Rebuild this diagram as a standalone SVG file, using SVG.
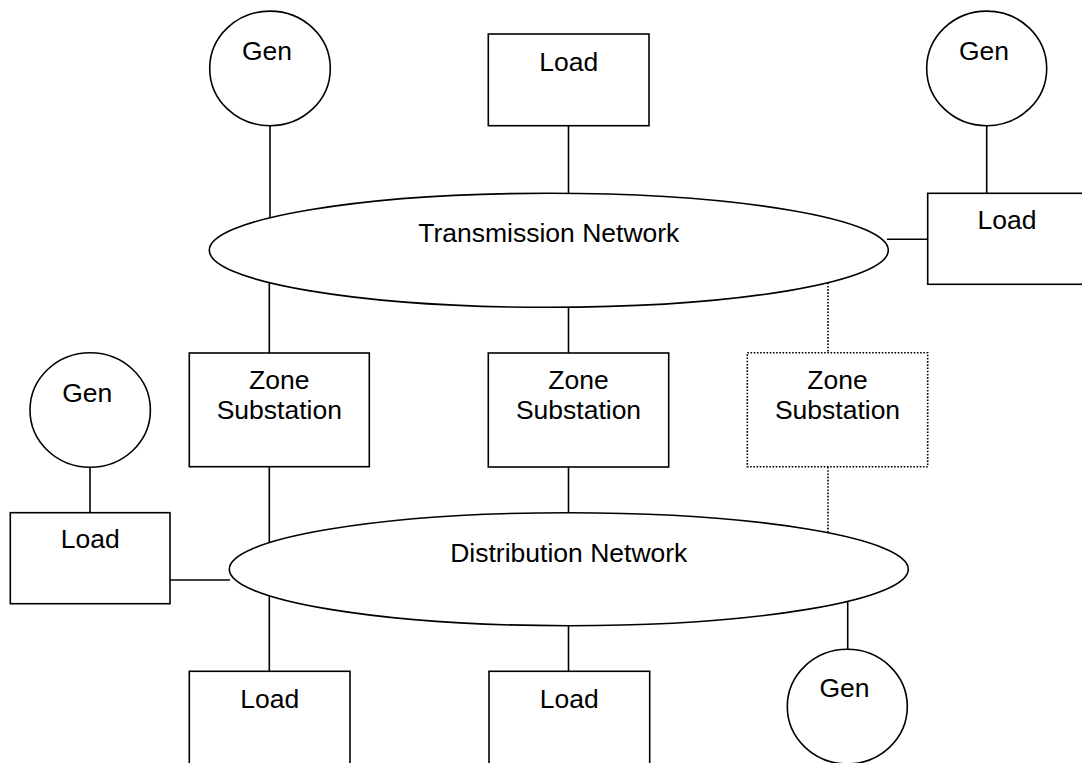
<svg xmlns="http://www.w3.org/2000/svg" width="1082" height="763" viewBox="0 0 1082 763">
<style>
.s{fill:#fff;stroke:#000;stroke-width:1.6}
.d{fill:#fff;stroke:#000;stroke-width:1.6;stroke-dasharray:1.6 1.6}
.c{stroke:#000;stroke-width:1.6;fill:none}
.cd{stroke:#000;stroke-width:1.6;fill:none;stroke-dasharray:1.6 1.6}
text{font-family:"Liberation Sans",Arial,sans-serif;font-size:26.5px;text-anchor:middle;fill:#000}
</style>
<rect width="1082" height="763" fill="#fff"/>
<g id="connectors">
<line class="c" x1="270" y1="125.7" x2="270" y2="218"/>
<line class="c" x1="568.5" y1="125.7" x2="568.5" y2="193.3"/>
<line class="c" x1="986.7" y1="125.7" x2="986.7" y2="193.3"/>
<line class="c" x1="887" y1="239.3" x2="928" y2="239.3"/>
<line class="c" x1="269.3" y1="282.8" x2="269.3" y2="353"/>
<line class="c" x1="568.5" y1="307.2" x2="568.5" y2="353"/>
<line class="cd" x1="828" y1="282.7" x2="828" y2="353"/>
<line class="c" x1="269.3" y1="467" x2="269.3" y2="542.6"/>
<line class="c" x1="568.5" y1="467" x2="568.5" y2="512.7"/>
<line class="cd" x1="828" y1="467" x2="828" y2="532.7"/>
<line class="c" x1="90" y1="467.3" x2="90" y2="512.7"/>
<line class="c" x1="170" y1="580" x2="230" y2="580"/>
<line class="c" x1="269.3" y1="595.8" x2="269.3" y2="671.3"/>
<line class="c" x1="568.5" y1="625.7" x2="568.5" y2="671.3"/>
<line class="c" x1="847.7" y1="601.5" x2="847.7" y2="649.3"/>
</g>
<g id="gen-top-left"><ellipse class="s" cx="270" cy="68.4" rx="60.3" ry="57.3"/><text x="267" y="60">Gen</text></g>
<g id="load-top"><rect class="s" x="488.3" y="34" width="160.7" height="91.7"/><text x="568.7" y="70.7">Load</text></g>
<g id="gen-top-right"><ellipse class="s" cx="986.7" cy="68.4" rx="60" ry="57.3"/><text x="984" y="60">Gen</text></g>
<g id="load-right"><rect class="s" x="927.7" y="193.3" width="160" height="91"/><text x="1007" y="229">Load</text></g>
<g id="transmission"><ellipse class="s" cx="548.8" cy="250.3" rx="339.5" ry="57"/><text x="548.8" y="242.3">Transmission Network</text></g>
<g id="zone-1"><rect class="s" x="189.3" y="353" width="180" height="113.7"/><text x="279.3" y="389">Zone</text><text x="279.3" y="419">Substation</text></g>
<g id="zone-2"><rect class="s" x="488.3" y="353" width="180.4" height="114"/><text x="578.5" y="389">Zone</text><text x="578.5" y="419">Substation</text></g>
<g id="zone-3"><rect class="d" x="747.3" y="352.7" width="180.4" height="114"/><text x="837.5" y="389">Zone</text><text x="837.5" y="419">Substation</text></g>
<g id="gen-left"><ellipse class="s" cx="90.2" cy="410" rx="60.2" ry="57.3"/><text x="87.2" y="401.7">Gen</text></g>
<g id="load-left"><rect class="s" x="10.3" y="512.7" width="159.7" height="91"/><text x="90.2" y="548.3">Load</text></g>
<g id="distribution"><ellipse class="s" cx="568.8" cy="569.2" rx="339.5" ry="56.5"/><text x="568.8" y="561.7">Distribution Network</text></g>
<g id="load-bottom-1"><rect class="s" x="189.3" y="671.3" width="160.7" height="100"/><text x="269.7" y="707.7">Load</text></g>
<g id="load-bottom-2"><rect class="s" x="489" y="671.3" width="160.7" height="100"/><text x="569.3" y="707.7">Load</text></g>
<g id="gen-bottom"><ellipse class="s" cx="847.3" cy="706.6" rx="60" ry="57.3"/><text x="844.5" y="697.3">Gen</text></g>
</svg>
